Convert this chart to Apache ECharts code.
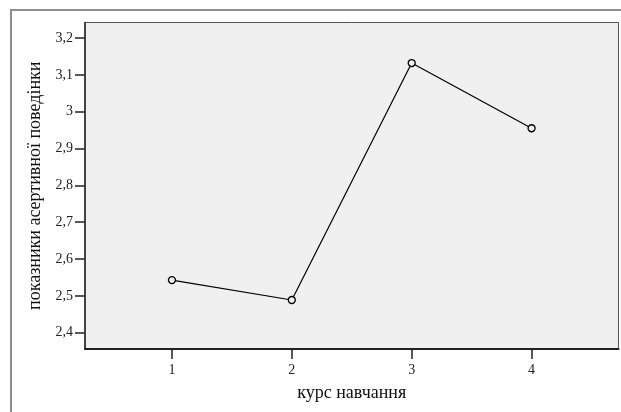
<!DOCTYPE html>
<html>
<head>
<meta charset="utf-8">
<script src="https://cdn.jsdelivr.net/npm/echarts@6/dist/echarts.min.js"></script>
<style>
  html, body { margin: 0; padding: 0; background: #ffffff; }
  #chart { width: 621px; height: 412px; }
</style>
</head>
<body>
<div id="chart"></div>
<script>
// Course of study and mean assertive-behaviour score
const courses = [1, 2, 3, 4];
const scores = [2.543, 2.489, 3.132, 2.955];
const yTicks = [2.4, 2.5, 2.6, 2.7, 2.8, 2.9, 3.0, 3.1, 3.2];
const xTitle = 'курс навчання';
const yTitle = 'показники асертивної поведінки';

const serif = '"Liberation Serif", "DejaVu Serif", serif';
const chart = echarts.init(document.getElementById('chart'), null, { renderer: 'canvas' });

chart.setOption({
  animation: false,
  backgroundColor: '#ffffff',
  graphic: [{
    type: 'rect',
    shape: { x: 11, y: 10, width: 700, height: 500 },
    style: { fill: 'none', stroke: '#8e8e8e', lineWidth: 2 },
    silent: true
  }],
  grid: {
    left: 85, right: 2.5, top: 22.5, bottom: 63,
    show: true,
    backgroundColor: '#f0f0f0',
    borderColor: '#555555',
    borderWidth: 1
  },
  xAxis: {
    type: 'value',
    min: 0.275, max: 4.725,
    name: xTitle,
    nameLocation: 'middle',
    nameGap: 35,
    nameTextStyle: { fontFamily: serif, fontSize: 18, color: '#111' },
    axisLine: { show: true, onZero: false, lineStyle: { color: '#222', width: 2 } },
    axisTick: { show: true, length: 10, customValues: courses, lineStyle: { color: '#222', width: 1.5 } },
    axisLabel: { customValues: courses, margin: 14, fontFamily: serif, fontSize: 14, color: '#222' },
    splitLine: { show: false }
  },
  yAxis: {
    type: 'value',
    min: 2.356, max: 3.242,
    name: yTitle,
    nameLocation: 'middle',
    nameRotate: 90,
    nameGap: 34,
    nameTextStyle: { fontFamily: serif, fontSize: 18, color: '#111' },
    axisLine: { show: true, onZero: false, lineStyle: { color: '#222', width: 1.5 } },
    axisTick: { show: true, length: 10, customValues: yTicks, lineStyle: { color: '#222', width: 1.5 } },
    axisLabel: {
      customValues: yTicks, margin: 12, fontFamily: serif, fontSize: 14, color: '#222',
      formatter: v => String(Math.round(v * 10) / 10).replace('.', ',')
    },
    splitLine: { show: false }
  },
  series: [{
    type: 'line',
    data: courses.map((c, i) => [c, scores[i]]),
    symbol: 'circle',
    symbolSize: 7,
    showAllSymbol: true,
    lineStyle: { color: '#000', width: 1.2 },
    itemStyle: { color: '#f0f0f0', borderColor: '#000', borderWidth: 1.3 },
    z: 3
  }]
});
</script>
</body>
</html>
